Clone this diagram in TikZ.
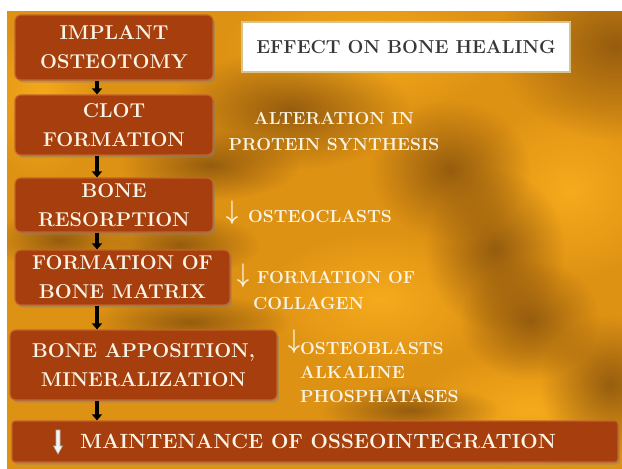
\documentclass[tikz,border=0pt]{standalone}
\usetikzlibrary{arrows.meta,shadows,fadings,calc}
\definecolor{gold}{RGB}{222,146,20}
\definecolor{brightgold}{RGB}{246,170,28}
\definecolor{bronze}{RGB}{120,70,12}
\definecolor{rust}{RGB}{166,62,14}
\definecolor{rustedge}{RGB}{196,98,44}
\definecolor{cream}{RGB}{250,244,228}
\definecolor{titlegray}{RGB}{55,55,55}
\definecolor{titleedge}{RGB}{214,196,140}
\tikzfading[name=softblob, inner color=transparent!0, outer color=transparent!100]
\begin{document}
\begin{tikzpicture}[x=1pt,y=-1pt,
  box/.style={draw=rustedge, line width=1.2pt, fill=rust, rounded corners=6pt,
    text=cream, font=\fontsize{20}{29}\selectfont\bfseries, align=center, inner sep=0pt,
    drop shadow={shadow xshift=2pt, shadow yshift=-2.5pt, opacity=0.45}},
  side/.style={text=cream, font=\fontsize{17.5}{26}\selectfont\bfseries, inner sep=0pt},
  sidearrow/.style={text=cream, font=\fontsize{21}{22}\selectfont, inner sep=0pt},
  flow/.style={line width=3.5pt, black, -{Triangle[length=6pt,width=10pt]}},
  blob/.style={fill=bronze, path fading=softblob, fill opacity=0.7},
  shine/.style={fill=brightgold, path fading=softblob}]
\useasboundingbox (0,0) rectangle (622,469);
\fill[white] (0,0) rectangle (622,469);
\fill[gold] (7,11) rectangle (622,469);
\begin{scope}
  \clip (7,11) rectangle (622,469);
  \fill[shine] (360,50) ellipse (140 and 70);
  \fill[shine] (570,190) ellipse (100 and 90);
  \fill[shine] (380,300) ellipse (120 and 70);
  \fill[shine] (530,410) ellipse (120 and 60);
  \fill[shine] (40,100) ellipse (60 and 80);
  \fill[blob] (615,45) ellipse (120 and 95);
  \fill[blob] (290,110) ellipse (120 and 60);
  \fill[blob] (450,170) ellipse (80 and 70);
  \fill[blob] (495,250) ellipse (70 and 80);
  \fill[blob] (530,320) ellipse (70 and 60);
  \fill[blob] (610,385) ellipse (70 and 70);
  \fill[blob] (210,165) ellipse (90 and 35);
  \fill[blob] (180,245) ellipse (80 and 32);
  \fill[blob] (190,322) ellipse (100 and 28);
  \fill[blob] (410,410) ellipse (90 and 25);
  \fill[blob] (60,240) ellipse (70 and 30);
\end{scope}
\coordinate (ax) at (97,0);
% flow boxes
\node[box, minimum width=198pt, minimum height=65pt] (b1) at (114,47.5) {IMPLANT\\OSTEOTOMY};
\node[box, minimum width=198pt, minimum height=60pt] (b2) at (114,125) {CLOT\\FORMATION};
\node[box, minimum width=198pt, minimum height=54pt] (b3) at (114,205) {BONE\\RESORPTION};
\node[box, minimum width=215pt, minimum height=55pt] (b4) at (122.5,277.5) {FORMATION OF\\BONE MATRIX};
\node[box, minimum width=267pt, minimum height=70pt] (b5) at (143.5,365) {BONE APPOSITION,\\MINERALIZATION};
\node[box, rounded corners=3pt, minimum width=606pt, minimum height=41pt,
  font=\fontsize{20.6}{24}\selectfont\bfseries] (b6) at (315,441.5) {\hspace*{6pt}MAINTENANCE OF OSSEOINTEGRATION};
% connectors
\draw[flow] (b1.south -| ax) -- (b2.north -| ax);
\draw[flow] (b2.south -| ax) -- (b3.north -| ax);
\draw[flow] (b3.south -| ax) -- (b4.north -| ax);
\draw[flow] (b4.south -| ax) -- (b5.north -| ax);
\draw[flow] (b5.south -| ax) -- (b6.north -| ax);
% white arrow in maintenance box
\filldraw[fill=white!92!gray, draw=gray!60, line width=0.6pt]
  (56,430) -- (60,430) -- (60,446) -- (62.5,446) -- (58,454) -- (53.5,446) -- (56,446) -- cycle;
% title
\node[draw=titleedge, line width=1.5pt, fill=white, minimum width=328pt, minimum height=50pt,
  inner sep=0pt, text=titlegray, font=\fontsize{18.8}{22}\selectfont\bfseries] (title) at (406,47) {EFFECT ON BONE HEALING};
% side texts
\node[side, align=center] (t1) at (334,131) {ALTERATION IN\\PROTEIN SYNTHESIS};
\node[sidearrow] (a1) at (232,213) {\scalebox{1}[1.3]{\boldmath$\downarrow$}};
\node[side, anchor=base west] (t2) at (248,222) {OSTEOCLASTS};
\node[sidearrow] (a2) at (243,276) {\scalebox{1}[1.3]{\boldmath$\downarrow$}};
\node[side, align=left, anchor=west] (t3) at (253,290) {\hspace*{4pt}FORMATION OF\\COLLAGEN};
\node[sidearrow] (a3) at (294,342) {\scalebox{1}[1.3]{\boldmath$\downarrow$}};
\node[side, align=left, anchor=west, font=\fontsize{17.5}{24}\selectfont\bfseries] (t4) at (300,372) {OSTEOBLASTS\\ALKALINE\\PHOSPHATASES};
\end{tikzpicture}
\end{document}
